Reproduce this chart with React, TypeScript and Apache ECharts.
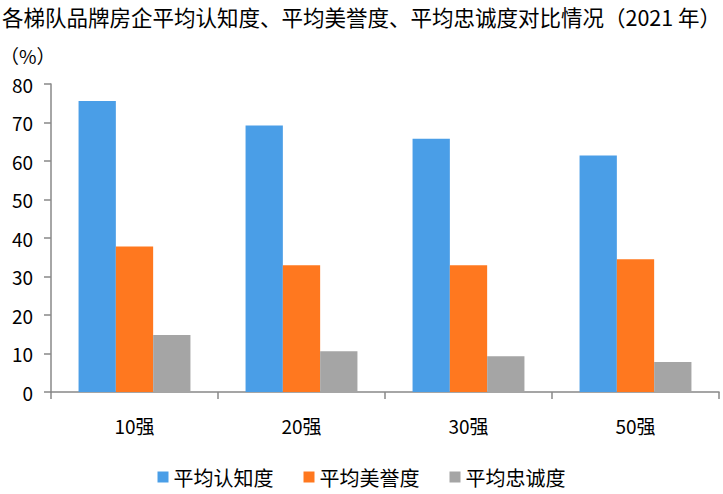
import React, { useEffect, useRef } from "react";
import * as echarts from "echarts";

const categories = ["10强", "20强", "30强", "50强"];
const awareness = [75.6, 69.2, 65.8, 61.4];
const reputation = [37.8, 32.9, 32.9, 34.5];
const loyalty = [14.8, 10.6, 9.3, 7.8];
const seriesNames = ["平均认知度", "平均美誉度", "平均忠诚度"];
const titleText = "各梯队品牌房企平均认知度、平均美誉度、平均忠诚度对比情况（2021 年）";
const unitText = "（%）";

const FONT = "'Noto Sans CJK SC', 'Liberation Sans', sans-serif";

export default function App() {
  const ref = useRef<HTMLDivElement>(null);
  useEffect(() => {
    if (!ref.current) return;
    const chart = echarts.init(ref.current, undefined, { renderer: "svg" });
    chart.setOption({
      animation: false,
      backgroundColor: "#ffffff",
      textStyle: { fontFamily: FONT },
      title: {
        text: titleText,
        left: 0,
        top: 6,
        padding: [0, 0, 0, 2],
        textStyle: { fontFamily: FONT, fontSize: 21.5, fontWeight: "normal", color: "#000" },
      },
      graphic: [
        {
          type: "text",
          left: 0,
          top: 46,
          style: { text: unitText, fontFamily: FONT, fontSize: 19, fill: "#000" },
        },
      ],
      legend: {
        bottom: 2,
        left: "center",
        itemWidth: 11,
        itemHeight: 11,
        itemGap: 30,
        icon: "rect",
        textStyle: { fontFamily: FONT, fontSize: 20, color: "#000" },
        data: seriesNames,
      },
      grid: { left: 51, right: 4, top: 84, bottom: 102, containLabel: false },
      xAxis: {
        type: "category",
        data: categories,
        axisLine: { lineStyle: { color: "#888", width: 1.5 } },
        axisTick: { show: true, length: 7, inside: false, lineStyle: { color: "#888", width: 1.5 } },
        axisLabel: { fontFamily: FONT, fontSize: 19, color: "#000", margin: 24 },
      },
      yAxis: {
        type: "value",
        min: 0,
        max: 80,
        interval: 10,
        splitLine: { show: false },
        axisLine: { show: true, lineStyle: { color: "#888", width: 1.5 } },
        axisTick: { show: true, length: 7, lineStyle: { color: "#888", width: 1.5 } },
        axisLabel: { fontFamily: FONT, fontSize: 19, color: "#000", margin: 18 },
      },
      series: [
        { name: seriesNames[0], type: "bar", data: awareness, itemStyle: { color: "#4A9EE7" }, barGap: "0%", barCategoryGap: "33%" },
        { name: seriesNames[1], type: "bar", data: reputation, itemStyle: { color: "#FF781F" }, barGap: "0%", barCategoryGap: "33%" },
        { name: seriesNames[2], type: "bar", data: loyalty, itemStyle: { color: "#A5A5A5" }, barGap: "0%", barCategoryGap: "33%" },
      ],
    });
    return () => chart.dispose();
  }, []);
  return <div ref={ref} style={{ width: 723, height: 494, position: "absolute", left: 0, top: 0 }} />;
}
